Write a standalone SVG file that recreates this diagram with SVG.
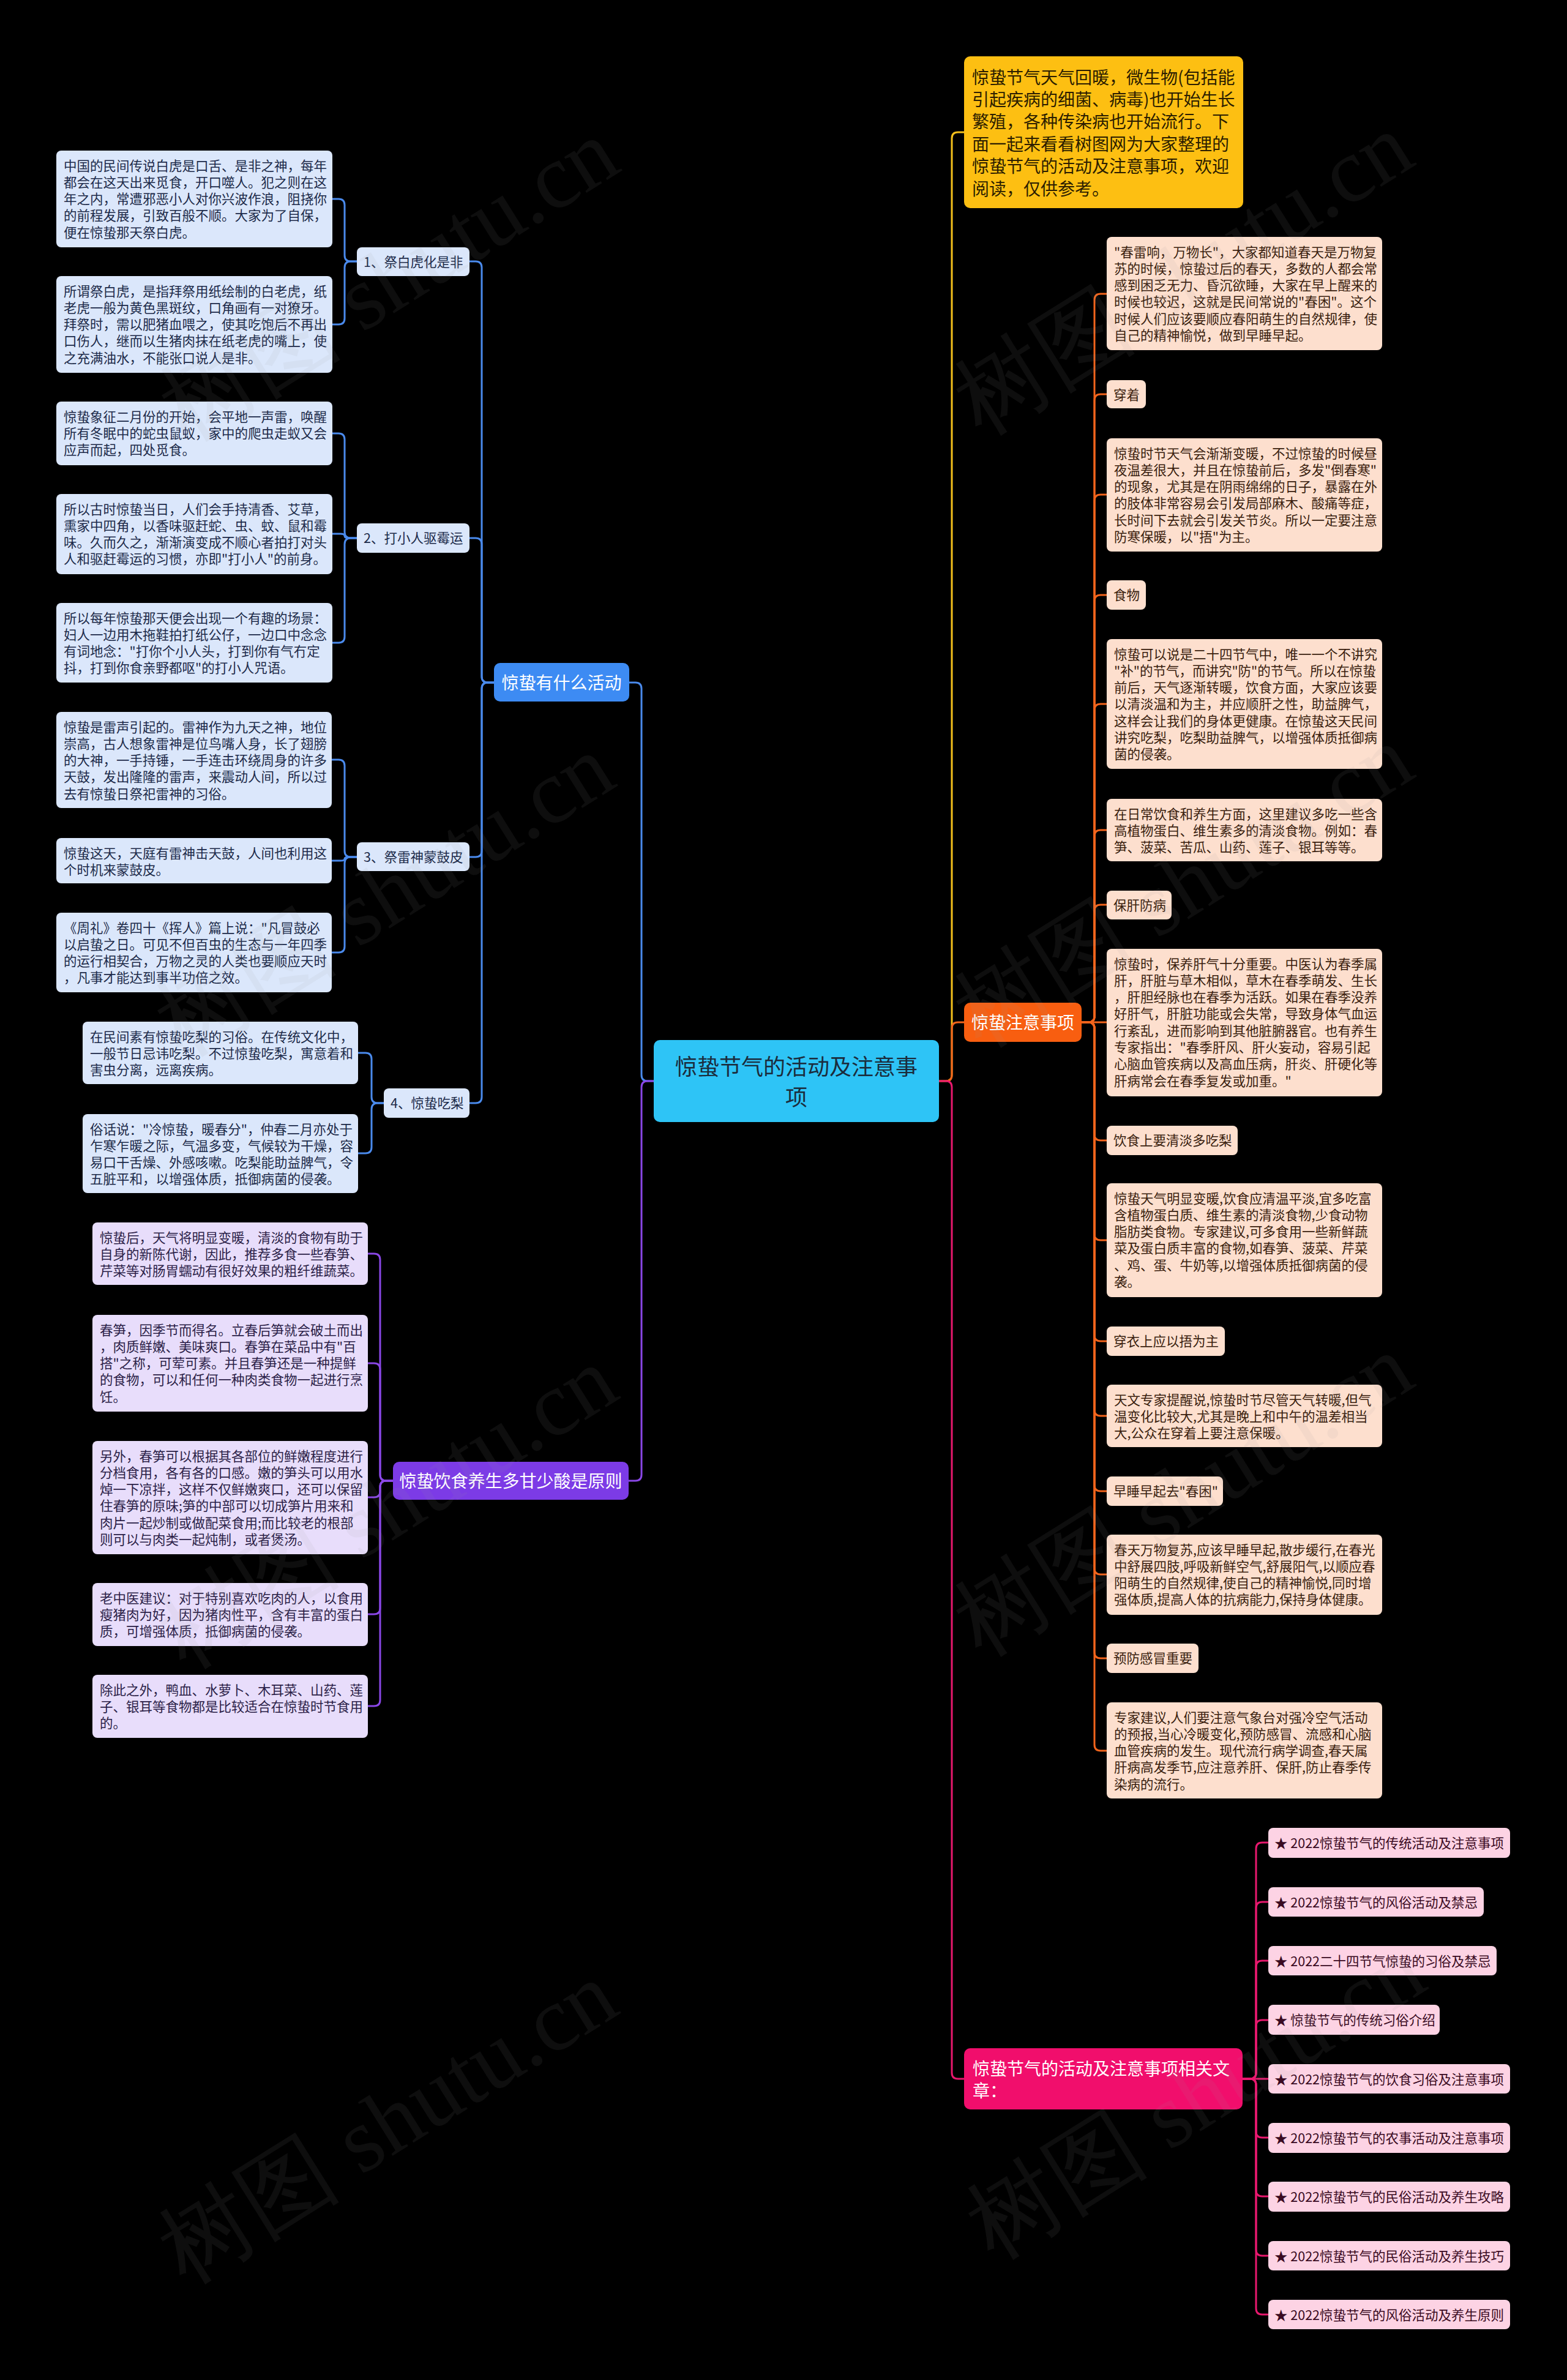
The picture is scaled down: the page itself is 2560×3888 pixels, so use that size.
<svg xmlns="http://www.w3.org/2000/svg" width="2560" height="3888" viewBox="0 0 2560 3888">
<style>
text{font-family:"Noto Sans CJK SC","Noto Sans",sans-serif;}
.c{fill:none;stroke-width:3;stroke-linecap:round;stroke-linejoin:round}
.cb{stroke:#4A8AEC}.cp{stroke:#8A47E6}.cy{stroke:#F4C01C}.co{stroke:#F2641C}.ck{stroke:#E8186E}
.lb{fill:#DBE7FB}.lp{fill:#E8DDFB}.lo{fill:#FDDFCE}.lk{fill:#FDD3E4}
.t{font-size:21.5px}
.tb{fill:#1D2B4A}.tp{fill:#2C1F48}.to{fill:#3A1E0E}.tk{fill:#3A0A22}
.m{font-size:28px;fill:#FFFFFF}
.wm{font-family:"Liberation Serif",serif;font-size:150px;fill:#999999;fill-opacity:0.09}
</style>
<rect x="0" y="0" width="2560" height="3888" fill="#000000"/>

<g id="connectors">
<path class="c cb" d="M1068 1766H1058Q1048 1766 1048 1756V1125Q1048 1115 1038 1115H1028"/>
<path class="c cp" d="M1068 1766H1058Q1048 1766 1048 1776V2409Q1048 2419 1038 2419H1027"/>
<path class="c cy" d="M1534 1766H1545Q1555 1766 1555 1756V226Q1555 216 1565 216H1575"/>
<path class="c co" d="M1534 1766H1545Q1555 1766 1555 1756V1680Q1555 1670 1565 1670H1575"/>
<path class="c ck" d="M1534 1766H1545Q1555 1766 1555 1776V3386Q1555 3396 1565 3396H1575"/>
<path class="c cb" d="M807 1115H797Q787 1115 787 1105V437Q787 427 777 427H767"/>
<path class="c cb" d="M807 1115H797Q787 1115 787 1105V889Q787 879 777 879H767"/>
<path class="c cb" d="M807 1115H797Q787 1115 787 1125V1390Q787 1400 777 1400H767"/>
<path class="c cb" d="M807 1115H797Q787 1115 787 1125V1792Q787 1802 777 1802H767"/>
<path class="c cb" d="M583 427H573Q563 427 563 417V335Q563 325 553 325H543"/>
<path class="c cb" d="M583 427H573Q563 427 563 437V520Q563 530 553 530H543"/>
<path class="c cb" d="M583 879H573Q563 879 563 869V718Q563 708 553 708H543"/>
<path class="c cb" d="M583 879H570Q563 879 563 875.5Q563 872 556 872H543"/>
<path class="c cb" d="M583 879H573Q563 879 563 889V1040Q563 1050 553 1050H543"/>
<path class="c cb" d="M583 1400H573Q563 1400 563 1390V1251Q563 1241 553 1241H542"/>
<path class="c cb" d="M583 1400H570Q563 1400 563 1403Q563 1406 556 1406H542"/>
<path class="c cb" d="M583 1400H573Q563 1400 563 1410V1546Q563 1556 553 1556H542"/>
<path class="c cb" d="M627 1802H617Q607 1802 607 1792V1730Q607 1720 597 1720H585"/>
<path class="c cb" d="M627 1802H617Q607 1802 607 1812V1874Q607 1884 597 1884H585"/>
<path class="c cp" d="M642 2419H631Q621 2419 621 2409V2058Q621 2048 611 2048H601"/>
<path class="c cp" d="M642 2419H631Q621 2419 621 2409V2237Q621 2227 611 2227H601"/>
<path class="c cp" d="M642 2419H631Q621 2419 621 2429V2436Q621 2446 611 2446H601"/>
<path class="c cp" d="M642 2419H631Q621 2419 621 2429V2627Q621 2637 611 2637H601"/>
<path class="c cp" d="M642 2419H631Q621 2419 621 2429V2777Q621 2787 611 2787H601"/>
<path class="c co" d="M1767 1670H1778Q1788 1670 1788 1660V490Q1788 480 1798 480H1808"/>
<path class="c co" d="M1767 1670H1778Q1788 1670 1788 1660V654Q1788 644 1798 644H1808"/>
<path class="c co" d="M1767 1670H1778Q1788 1670 1788 1660V818Q1788 808 1798 808H1808"/>
<path class="c co" d="M1767 1670H1778Q1788 1670 1788 1660V982Q1788 972 1798 972H1808"/>
<path class="c co" d="M1767 1670H1778Q1788 1670 1788 1660V1160Q1788 1150 1798 1150H1808"/>
<path class="c co" d="M1767 1670H1778Q1788 1670 1788 1660V1366Q1788 1356 1798 1356H1808"/>
<path class="c co" d="M1767 1670H1778Q1788 1670 1788 1660V1488Q1788 1478 1798 1478H1808"/>
<path class="c co" d="M1767 1670H1808"/>
<path class="c co" d="M1767 1670H1778Q1788 1670 1788 1680V1853Q1788 1863 1798 1863H1808"/>
<path class="c co" d="M1767 1670H1778Q1788 1670 1788 1680V2016Q1788 2026 1798 2026H1808"/>
<path class="c co" d="M1767 1670H1778Q1788 1670 1788 1680V2181Q1788 2191 1798 2191H1808"/>
<path class="c co" d="M1767 1670H1778Q1788 1670 1788 1680V2303Q1788 2313 1798 2313H1808"/>
<path class="c co" d="M1767 1670H1778Q1788 1670 1788 1680V2426Q1788 2436 1798 2436H1808"/>
<path class="c co" d="M1767 1670H1778Q1788 1670 1788 1680V2562Q1788 2572 1798 2572H1808"/>
<path class="c co" d="M1767 1670H1778Q1788 1670 1788 1680V2699Q1788 2709 1798 2709H1808"/>
<path class="c co" d="M1767 1670H1778Q1788 1670 1788 1680V2850Q1788 2860 1798 2860H1808"/>
<path class="c ck" d="M2030 3396H2042Q2052 3396 2052 3386V3020Q2052 3010 2062 3010H2072"/>
<path class="c ck" d="M2030 3396H2042Q2052 3396 2052 3386V3117Q2052 3107 2062 3107H2072"/>
<path class="c ck" d="M2030 3396H2042Q2052 3396 2052 3386V3213Q2052 3203 2062 3203H2072"/>
<path class="c ck" d="M2030 3396H2042Q2052 3396 2052 3386V3310Q2052 3300 2062 3300H2072"/>
<path class="c ck" d="M2030 3396H2072"/>
<path class="c ck" d="M2030 3396H2042Q2052 3396 2052 3406V3482Q2052 3492 2062 3492H2072"/>
<path class="c ck" d="M2030 3396H2042Q2052 3396 2052 3406V3578Q2052 3588 2062 3588H2072"/>
<path class="c ck" d="M2030 3396H2042Q2052 3396 2052 3406V3675Q2052 3685 2062 3685H2072"/>
<path class="c ck" d="M2030 3396H2042Q2052 3396 2052 3406V3771Q2052 3781 2062 3781H2072"/>
</g>

<g id="center">
<rect x="1068" y="1699" width="466" height="134" rx="10" fill="#2EC4F6"/>
<text x="1301" y="1756" font-size="36" fill="#1B2C3C" text-anchor="middle">惊蛰节气的活动及注意事</text>
<text x="1301" y="1806" font-size="36" fill="#1B2C3C" text-anchor="middle">项</text>
</g>

<g id="b-main">
<rect x="807" y="1083" width="221" height="63" rx="10" fill="#3D8BF3"/>
<text class="m" x="917.5" y="1125.6" text-anchor="middle">惊蛰有什么活动</text>
</g>
<g id="p-main">
<rect x="642" y="2388" width="385" height="62" rx="10" fill="#7C3BE6"/>
<text class="m" x="834.5" y="2429.6" text-anchor="middle">惊蛰饮食养生多甘少酸是原则</text>
</g>
<g id="y-main">
<rect x="1575" y="92" width="456" height="248" rx="10" fill="#FDBF12"/>
<text font-size="28" fill="#2B1D00">
<tspan x="1588" y="136.6">惊蛰节气天气回暖，微生物(包括能</tspan>
<tspan x="1588" y="173">引起疾病的细菌、病毒)也开始生长</tspan>
<tspan x="1588" y="209.4">繁殖，各种传染病也开始流行。下</tspan>
<tspan x="1588" y="245.8">面一起来看看树图网为大家整理的</tspan>
<tspan x="1588" y="282.2">惊蛰节气的活动及注意事项，欢迎</tspan>
<tspan x="1588" y="318.6">阅读，仅供参考。</tspan>
</text>
</g>
<g id="o-main">
<rect x="1575" y="1638" width="192" height="64" rx="10" fill="#F85E10"/>
<text class="m" x="1671" y="1680.6" text-anchor="middle">惊蛰注意事项</text>
</g>
<g id="k-main">
<rect x="1575" y="3346" width="455" height="100" rx="10" fill="#F10E6C"/>
<text class="m"><tspan x="1589" y="3389.6">惊蛰节气的活动及注意事项相关文</tspan><tspan x="1589" y="3425.6">章：</tspan></text>
</g>

<g id="b-l1"><rect class="lb" x="583" y="404" width="184" height="47" rx="8"/><text class="t tb" x="594" y="435.5">1、祭白虎化是非</text></g>
<g id="b-l2"><rect class="lb" x="583" y="855" width="184" height="48" rx="8"/><text class="t tb" x="594" y="886.5">2、打小人驱霉运</text></g>
<g id="b-l3"><rect class="lb" x="583" y="1376" width="184" height="47" rx="8"/><text class="t tb" x="594" y="1407.5">3、祭雷神蒙鼓皮</text></g>
<g id="b-l4"><rect class="lb" x="627" y="1778" width="140" height="48" rx="8"/><text class="t tb" x="638" y="1809.5">4、惊蛰吃梨</text></g>

<g id="b-1a"><rect class="lb" x="92" y="246" width="451" height="158" rx="8"/>
<text class="t tb"><tspan x="104" y="278.5">中国的民间传说白虎是口舌、是非之神，每年</tspan><tspan x="104" y="305.8">都会在这天出来觅食，开口噬人。犯之则在这</tspan><tspan x="104" y="333.1">年之内，常遭邪恶小人对你兴波作浪，阻挠你</tspan><tspan x="104" y="360.4">的前程发展，引致百般不顺。大家为了自保，</tspan><tspan x="104" y="387.7">便在惊蛰那天祭白虎。</tspan></text></g>
<g id="b-1b"><rect class="lb" x="92" y="451" width="451" height="158" rx="8"/>
<text class="t tb"><tspan x="104" y="483.5">所谓祭白虎，是指拜祭用纸绘制的白老虎，纸</tspan><tspan x="104" y="510.8">老虎一般为黄色黑斑纹，口角画有一对獠牙。</tspan><tspan x="104" y="538.1">拜祭时，需以肥猪血喂之，使其吃饱后不再出</tspan><tspan x="104" y="565.4">口伤人，继而以生猪肉抹在纸老虎的嘴上，使</tspan><tspan x="104" y="592.7">之充满油水，不能张口说人是非。</tspan></text></g>
<g id="b-2a"><rect class="lb" x="92" y="656" width="451" height="104" rx="8"/>
<text class="t tb"><tspan x="104" y="688.5">惊蛰象征二月份的开始，会平地一声雷，唤醒</tspan><tspan x="104" y="715.8">所有冬眠中的蛇虫鼠蚁，家中的爬虫走蚁又会</tspan><tspan x="104" y="743.1">应声而起，四处觅食。</tspan></text></g>
<g id="b-2b"><rect class="lb" x="92" y="807" width="451" height="131" rx="8"/>
<text class="t tb"><tspan x="104" y="839.5">所以古时惊蛰当日，人们会手持清香、艾草，</tspan><tspan x="104" y="866.8">熏家中四角，以香味驱赶蛇、虫、蚊、鼠和霉</tspan><tspan x="104" y="894.1">味。久而久之，渐渐演变成不顺心者拍打对头</tspan><tspan x="104" y="921.4">人和驱赶霉运的习惯，亦即"打小人"的前身。</tspan></text></g>
<g id="b-2c"><rect class="lb" x="92" y="985" width="451" height="130" rx="8"/>
<text class="t tb"><tspan x="104" y="1017.5">所以每年惊蛰那天便会出现一个有趣的场景：</tspan><tspan x="104" y="1044.8">妇人一边用木拖鞋拍打纸公仔，一边口中念念</tspan><tspan x="104" y="1072.1">有词地念："打你个小人头，打到你有气冇定</tspan><tspan x="104" y="1099.4">抖，打到你食亲野都呕"的打小人咒语。</tspan></text></g>
<g id="b-3a"><rect class="lb" x="92" y="1163" width="450" height="157" rx="8"/>
<text class="t tb"><tspan x="104" y="1195.5">惊蛰是雷声引起的。雷神作为九天之神，地位</tspan><tspan x="104" y="1222.8">崇高，古人想象雷神是位鸟嘴人身，长了翅膀</tspan><tspan x="104" y="1250.1">的大神，一手持锤，一手连击环绕周身的许多</tspan><tspan x="104" y="1277.4">天鼓，发出隆隆的雷声，来震动人间，所以过</tspan><tspan x="104" y="1304.7">去有惊蛰日祭祀雷神的习俗。</tspan></text></g>
<g id="b-3b"><rect class="lb" x="92" y="1369" width="450" height="74" rx="8"/>
<text class="t tb"><tspan x="104" y="1401.5">惊蛰这天，天庭有雷神击天鼓，人间也利用这</tspan><tspan x="104" y="1428.8">个时机来蒙鼓皮。</tspan></text></g>
<g id="b-3c"><rect class="lb" x="92" y="1491" width="450" height="130" rx="8"/>
<text class="t tb"><tspan x="104" y="1523.5">《周礼》卷四十《挥人》篇上说："凡冒鼓必</tspan><tspan x="104" y="1550.8">以启蛰之日。可见不但百虫的生态与一年四季</tspan><tspan x="104" y="1578.1">的运行相契合，万物之灵的人类也要顺应天时</tspan><tspan x="104" y="1605.4">，凡事才能达到事半功倍之效。</tspan></text></g>
<g id="b-4a"><rect class="lb" x="135" y="1669" width="450" height="102" rx="8"/>
<text class="t tb"><tspan x="147" y="1701.5">在民间素有惊蛰吃梨的习俗。在传统文化中，</tspan><tspan x="147" y="1728.8">一般节日忌讳吃梨。不过惊蛰吃梨，寓意着和</tspan><tspan x="147" y="1756.1">害虫分离，远离疾病。</tspan></text></g>
<g id="b-4b"><rect class="lb" x="135" y="1820" width="450" height="129" rx="8"/>
<text class="t tb"><tspan x="147" y="1852.5">俗话说："冷惊蛰，暖春分"，仲春二月亦处于</tspan><tspan x="147" y="1879.8">乍寒乍暖之际，气温多变，气候较为干燥，容</tspan><tspan x="147" y="1907.1">易口干舌燥、外感咳嗽。吃梨能助益脾气，令</tspan><tspan x="147" y="1934.4">五脏平和，以增强体质，抵御病菌的侵袭。</tspan></text></g>

<g id="p-1"><rect class="lp" x="151" y="1997" width="450" height="102" rx="8"/>
<text class="t tp"><tspan x="163" y="2029.5">惊蛰后，天气将明显变暖，清淡的食物有助于</tspan><tspan x="163" y="2056.8">自身的新陈代谢，因此，推荐多食一些春笋、</tspan><tspan x="163" y="2084.1">芹菜等对肠胃蠕动有很好效果的粗纤维蔬菜。</tspan></text></g>
<g id="p-2"><rect class="lp" x="151" y="2148" width="450" height="158" rx="8"/>
<text class="t tp"><tspan x="163" y="2180.5">春笋，因季节而得名。立春后笋就会破土而出</tspan><tspan x="163" y="2207.8">，肉质鲜嫩、美味爽口。春笋在菜品中有"百</tspan><tspan x="163" y="2235.1">搭"之称，可荤可素。并且春笋还是一种提鲜</tspan><tspan x="163" y="2262.4">的食物，可以和任何一种肉类食物一起进行烹</tspan><tspan x="163" y="2289.7">饪。</tspan></text></g>
<g id="p-3"><rect class="lp" x="151" y="2354" width="450" height="185" rx="8"/>
<text class="t tp"><tspan x="163" y="2386.5">另外，春笋可以根据其各部位的鲜嫩程度进行</tspan><tspan x="163" y="2413.8">分档食用，各有各的口感。嫩的笋头可以用水</tspan><tspan x="163" y="2441.1">焯一下凉拌，这样不仅鲜嫩爽口，还可以保留</tspan><tspan x="163" y="2468.4">住春笋的原味;笋的中部可以切成笋片用来和</tspan><tspan x="163" y="2495.7">肉片一起炒制或做配菜食用;而比较老的根部</tspan><tspan x="163" y="2523">则可以与肉类一起炖制，或者煲汤。</tspan></text></g>
<g id="p-4"><rect class="lp" x="151" y="2586" width="450" height="103" rx="8"/>
<text class="t tp"><tspan x="163" y="2618.5">老中医建议：对于特别喜欢吃肉的人，以食用</tspan><tspan x="163" y="2645.8">瘦猪肉为好，因为猪肉性平，含有丰富的蛋白</tspan><tspan x="163" y="2673.1">质，可增强体质，抵御病菌的侵袭。</tspan></text></g>
<g id="p-5"><rect class="lp" x="151" y="2736" width="450" height="103" rx="8"/>
<text class="t tp"><tspan x="163" y="2768.5">除此之外，鸭血、水萝卜、木耳菜、山药、莲</tspan><tspan x="163" y="2795.8">子、银耳等食物都是比较适合在惊蛰时节食用</tspan><tspan x="163" y="2823.1">的。</tspan></text></g>

<g id="o-a"><rect class="lo" x="1808" y="387" width="450" height="185" rx="8"/>
<text class="t to"><tspan x="1820" y="419.5">"春雷响，万物长"，大家都知道春天是万物复</tspan><tspan x="1820" y="446.8">苏的时候，惊蛰过后的春天，多数的人都会常</tspan><tspan x="1820" y="474.1">感到困乏无力、昏沉欲睡，大家在早上醒来的</tspan><tspan x="1820" y="501.4">时候也较迟，这就是民间常说的"春困"。这个</tspan><tspan x="1820" y="528.7">时候人们应该要顺应春阳萌生的自然规律，使</tspan><tspan x="1820" y="556">自己的精神愉悦，做到早睡早起。</tspan></text></g>
<g id="o-b"><rect class="lo" x="1808" y="621" width="64" height="46" rx="8"/><text class="t to" x="1819" y="652.5">穿着</text></g>
<g id="o-c"><rect class="lo" x="1808" y="716" width="450" height="185" rx="8"/>
<text class="t to"><tspan x="1820" y="748.5">惊蛰时节天气会渐渐变暖，不过惊蛰的时候昼</tspan><tspan x="1820" y="775.8">夜温差很大，并且在惊蛰前后，多发"倒春寒"</tspan><tspan x="1820" y="803.1">的现象，尤其是在阴雨绵绵的日子，暴露在外</tspan><tspan x="1820" y="830.4">的肢体非常容易会引发局部麻木、酸痛等症，</tspan><tspan x="1820" y="857.7">长时间下去就会引发关节炎。所以一定要注意</tspan><tspan x="1820" y="885">防寒保暖，以"捂"为主。</tspan></text></g>
<g id="o-d"><rect class="lo" x="1808" y="948" width="64" height="48" rx="8"/><text class="t to" x="1819" y="979.5">食物</text></g>
<g id="o-e"><rect class="lo" x="1808" y="1044" width="450" height="212" rx="8"/>
<text class="t to"><tspan x="1820" y="1076.5">惊蛰可以说是二十四节气中，唯一一个不讲究</tspan><tspan x="1820" y="1103.8">"补"的节气，而讲究"防"的节气。所以在惊蛰</tspan><tspan x="1820" y="1131.1">前后，天气逐渐转暖，饮食方面，大家应该要</tspan><tspan x="1820" y="1158.4">以清淡温和为主，并应顺肝之性，助益脾气，</tspan><tspan x="1820" y="1185.7">这样会让我们的身体更健康。在惊蛰这天民间</tspan><tspan x="1820" y="1213">讲究吃梨，吃梨助益脾气，以增强体质抵御病</tspan><tspan x="1820" y="1240.3">菌的侵袭。</tspan></text></g>
<g id="o-f"><rect class="lo" x="1808" y="1305" width="450" height="102" rx="8"/>
<text class="t to"><tspan x="1820" y="1337.5">在日常饮食和养生方面，这里建议多吃一些含</tspan><tspan x="1820" y="1364.8">高植物蛋白、维生素多的清淡食物。例如：春</tspan><tspan x="1820" y="1392.1">笋、菠菜、苦瓜、山药、莲子、银耳等等。</tspan></text></g>
<g id="o-g"><rect class="lo" x="1808" y="1455" width="106" height="47" rx="8"/><text class="t to" x="1819" y="1486.5">保肝防病</text></g>
<g id="o-h"><rect class="lo" x="1808" y="1550" width="450" height="241" rx="8"/>
<text class="t to"><tspan x="1820" y="1582.5">惊蛰时，保养肝气十分重要。中医认为春季属</tspan><tspan x="1820" y="1609.8">肝，肝脏与草木相似，草木在春季萌发、生长</tspan><tspan x="1820" y="1637.1">，肝胆经脉也在春季为活跃。如果在春季没养</tspan><tspan x="1820" y="1664.4">好肝气，肝脏功能或会失常，导致身体气血运</tspan><tspan x="1820" y="1691.7">行紊乱，进而影响到其他脏腑器官。也有养生</tspan><tspan x="1820" y="1719">专家指出："春季肝风、肝火妄动，容易引起</tspan><tspan x="1820" y="1746.3">心脑血管疾病以及高血压病，肝炎、肝硬化等</tspan><tspan x="1820" y="1773.6">肝病常会在春季复发或加重。"</tspan></text></g>
<g id="o-i"><rect class="lo" x="1808" y="1839" width="214" height="48" rx="8"/><text class="t to" x="1819" y="1870.5">饮食上要清淡多吃梨</text></g>
<g id="o-j"><rect class="lo" x="1808" y="1933" width="450" height="186" rx="8"/>
<text class="t to"><tspan x="1820" y="1965.5">惊蛰天气明显变暖,饮食应清温平淡,宜多吃富</tspan><tspan x="1820" y="1992.8">含植物蛋白质、维生素的清淡食物,少食动物</tspan><tspan x="1820" y="2020.1">脂肪类食物。专家建议,可多食用一些新鲜蔬</tspan><tspan x="1820" y="2047.4">菜及蛋白质丰富的食物,如春笋、菠菜、芹菜</tspan><tspan x="1820" y="2074.7">、鸡、蛋、牛奶等,以增强体质抵御病菌的侵</tspan><tspan x="1820" y="2102">袭。</tspan></text></g>
<g id="o-k"><rect class="lo" x="1808" y="2167" width="193" height="48" rx="8"/><text class="t to" x="1819" y="2198.5">穿衣上应以捂为主</text></g>
<g id="o-l"><rect class="lo" x="1808" y="2262" width="450" height="102" rx="8"/>
<text class="t to"><tspan x="1820" y="2294.5">天文专家提醒说,惊蛰时节尽管天气转暖,但气</tspan><tspan x="1820" y="2321.8">温变化比较大,尤其是晚上和中午的温差相当</tspan><tspan x="1820" y="2349.1">大,公众在穿着上要注意保暖。</tspan></text></g>
<g id="o-m"><rect class="lo" x="1808" y="2412" width="190" height="48" rx="8"/><text class="t to" x="1819" y="2443.5">早睡早起去"春困"</text></g>
<g id="o-n"><rect class="lo" x="1808" y="2507" width="450" height="131" rx="8"/>
<text class="t to"><tspan x="1820" y="2539.5">春天万物复苏,应该早睡早起,散步缓行,在春光</tspan><tspan x="1820" y="2566.8">中舒展四肢,呼吸新鲜空气,舒展阳气,以顺应春</tspan><tspan x="1820" y="2594.1">阳萌生的自然规律,使自己的精神愉悦,同时增</tspan><tspan x="1820" y="2621.4">强体质,提高人体的抗病能力,保持身体健康。</tspan></text></g>
<g id="o-o"><rect class="lo" x="1808" y="2685" width="150" height="48" rx="8"/><text class="t to" x="1819" y="2716.5">预防感冒重要</text></g>
<g id="o-p"><rect class="lo" x="1808" y="2781" width="450" height="157" rx="8"/>
<text class="t to"><tspan x="1820" y="2813.5">专家建议,人们要注意气象台对强冷空气活动</tspan><tspan x="1820" y="2840.8">的预报,当心冷暖变化,预防感冒、流感和心脑</tspan><tspan x="1820" y="2868.1">血管疾病的发生。现代流行病学调查,春天属</tspan><tspan x="1820" y="2895.4">肝病高发季节,应注意养肝、保肝,防止春季传</tspan><tspan x="1820" y="2922.7">染病的流行。</tspan></text></g>

<g id="k-1"><rect class="lk" x="2072" y="2986" width="395" height="49" rx="8"/><text class="t tk" x="2082" y="3018.6">★ 2022惊蛰节气的传统活动及注意事项</text></g>
<g id="k-2"><rect class="lk" x="2072" y="3083" width="352" height="48" rx="8"/><text class="t tk" x="2082" y="3115.6">★ 2022惊蛰节气的风俗活动及禁忌</text></g>
<g id="k-3"><rect class="lk" x="2072" y="3179" width="373" height="48" rx="8"/><text class="t tk" x="2082" y="3211.6">★ 2022二十四节气惊蛰的习俗及禁忌</text></g>
<g id="k-4"><rect class="lk" x="2072" y="3275" width="280" height="49" rx="8"/><text class="t tk" x="2082" y="3307.6">★ 惊蛰节气的传统习俗介绍</text></g>
<g id="k-5"><rect class="lk" x="2072" y="3372" width="395" height="48" rx="8"/><text class="t tk" x="2082" y="3404.6">★ 2022惊蛰节气的饮食习俗及注意事项</text></g>
<g id="k-6"><rect class="lk" x="2072" y="3468" width="395" height="49" rx="8"/><text class="t tk" x="2082" y="3500.6">★ 2022惊蛰节气的农事活动及注意事项</text></g>
<g id="k-7"><rect class="lk" x="2072" y="3564" width="395" height="49" rx="8"/><text class="t tk" x="2082" y="3596.6">★ 2022惊蛰节气的民俗活动及养生攻略</text></g>
<g id="k-8"><rect class="lk" x="2072" y="3661" width="395" height="48" rx="8"/><text class="t tk" x="2082" y="3693.6">★ 2022惊蛰节气的民俗活动及养生技巧</text></g>
<g id="k-9"><rect class="lk" x="2072" y="3757" width="395" height="48" rx="8"/><text class="t tk" x="2082" y="3789.6">★ 2022惊蛰节气的风俗活动及养生原则</text></g>

<g id="watermark">
<text class="wm" transform="translate(662,500) rotate(-32)" text-anchor="middle">树图 shutu.cn</text>
<text class="wm" transform="translate(1960,490) rotate(-32)" text-anchor="middle">树图 shutu.cn</text>
<text class="wm" transform="translate(655,1505) rotate(-32)" text-anchor="middle">树图 shutu.cn</text>
<text class="wm" transform="translate(1960,1490) rotate(-32)" text-anchor="middle">树图 shutu.cn</text>
<text class="wm" transform="translate(660,2505) rotate(-32)" text-anchor="middle">树图 shutu.cn</text>
<text class="wm" transform="translate(1960,2485) rotate(-32)" text-anchor="middle">树图 shutu.cn</text>
<text class="wm" transform="translate(660,3510) rotate(-32)" text-anchor="middle">树图 shutu.cn</text>
<text class="wm" transform="translate(1980,3470) rotate(-32)" text-anchor="middle">树图 shutu.cn</text>
</g>
</svg>
